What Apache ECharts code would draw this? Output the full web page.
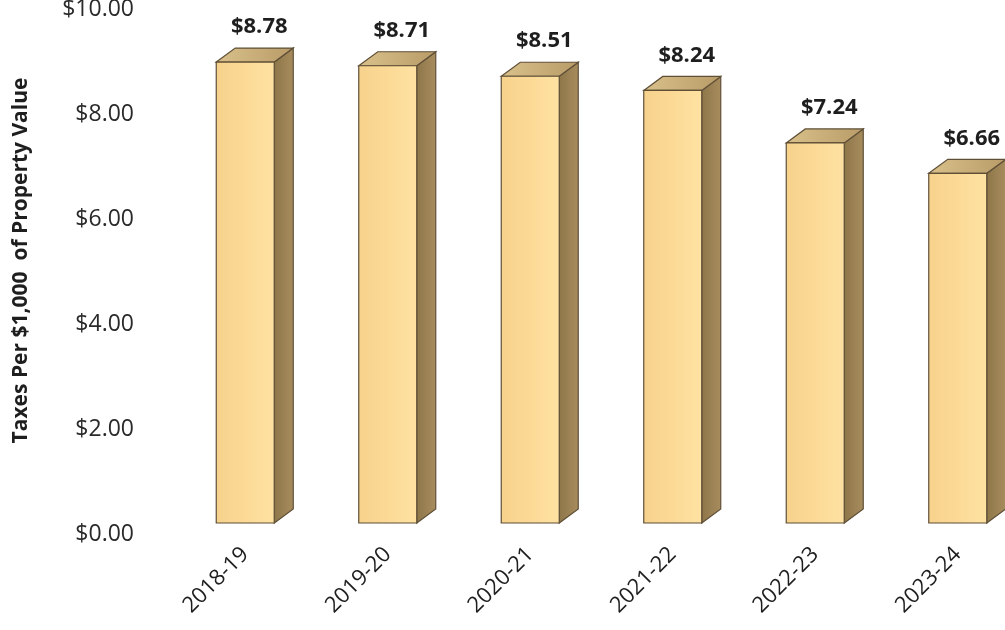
<!DOCTYPE html>
<html>
<head>
<meta charset="utf-8">
<script src="https://cdn.jsdelivr.net/npm/echarts@6/dist/echarts.min.js"></script>
<style>
html,body{margin:0;padding:0;background:#fff;}
#chart{width:1005px;height:630px;}
</style>
</head>
<body>
<div id="chart"></div>
<script>
const categories = ['2018-19', '2019-20', '2020-21', '2021-22', '2022-23', '2023-24'];
const taxRates = [8.78, 8.71, 8.51, 8.24, 7.24, 6.66];
const yTicks = [0, 2, 4, 6, 8, 10];
const yTitle = 'Taxes Per $1,000  of Property Value';

const chart = echarts.init(document.getElementById('chart'));

function renderBar(params, api) {
  const i = api.value(0);
  const v = api.value(1);
  const top = api.coord([i, v]);
  const base = api.coord([i, 0]);
  const w = 58, dx = 19, dy = 14;
  const x0 = top[0] - w / 2, x1 = top[0] + w / 2;
  const yt = top[1], yb = base[1];
  const stroke = '#5f4f37';
  return {
    type: 'group',
    children: [
      {
        type: 'polygon',
        shape: { points: [[x1, yt], [x1 + dx, yt - dy], [x1 + dx, yb - dy], [x1, yb]] },
        style: {
          fill: new echarts.graphic.LinearGradient(0, 0, 1, 0, [
            { offset: 0, color: '#8e7649' },
            { offset: 1, color: '#a88d5e' }
          ]),
          stroke: stroke, lineWidth: 1.2
        }
      },
      {
        type: 'polygon',
        shape: { points: [[x0, yt], [x0 + dx, yt - dy], [x1 + dx, yt - dy], [x1, yt]] },
        style: {
          fill: new echarts.graphic.LinearGradient(0, 0, 1, 0, [
            { offset: 0, color: '#d9c08a' },
            { offset: 1, color: '#b99c68' }
          ]),
          stroke: stroke, lineWidth: 1.2
        }
      },
      {
        type: 'rect',
        shape: { x: x0, y: yt, width: w, height: yb - yt },
        style: {
          fill: new echarts.graphic.LinearGradient(0, 0, 1, 0, [
            { offset: 0, color: '#f6d28c' },
            { offset: 0.5, color: '#fcda96' },
            { offset: 1, color: '#fee2a2' }
          ]),
          stroke: stroke, lineWidth: 1.2
        }
      },
      {
        type: 'text',
        style: {
          x: top[0] + 14,
          y: yt - dy - 21,
          text: '$' + v.toFixed(2),
          align: 'center',
          verticalAlign: 'middle',
          fontFamily: 'Open Sans',
          fontWeight: 'bold',
          fontSize: 22,
          fill: '#1e1e1e'
        }
      }
    ]
  };
}

chart.setOption({
  animation: false,
  backgroundColor: '#ffffff',
  grid: { left: 174, top: -2, width: 855, height: 525, containLabel: false, outerBoundsMode: 'none' },
  xAxis: {
    type: 'category',
    data: categories,
    axisLine: { show: false },
    axisTick: { show: false },
    axisLabel: {
      rotate: 45,
      margin: 28,
      interval: 0,
      fontFamily: 'Open Sans',
      fontSize: 22,
      color: '#1e1e1e'
    }
  },
  yAxis: {
    type: 'value',
    min: yTicks[0],
    max: yTicks[yTicks.length - 1],
    interval: 2,
    splitLine: { show: false },
    axisLine: { show: false },
    axisTick: { show: false },
    axisLabel: {
      margin: 40,
      verticalAlign: 'top',
      lineHeight: 22,
      fontFamily: 'Open Sans',
      fontSize: 23,
      color: '#2a2a2a',
      formatter: function (v) { return '$' + v.toFixed(2); }
    },
    name: yTitle,
    nameLocation: 'middle',
    nameGap: 142,
    nameTextStyle: {
      fontFamily: 'Open Sans',
      fontWeight: 'bold',
      fontSize: 21,
      color: '#1e1e1e'
    }
  },
  series: [{
    type: 'custom',
    renderItem: renderBar,
    clip: false,
    encode: { x: 0, y: 1 },
    data: taxRates.map(function (v, i) { return [i, v]; })
  }]
});
</script>
</body>
</html>
